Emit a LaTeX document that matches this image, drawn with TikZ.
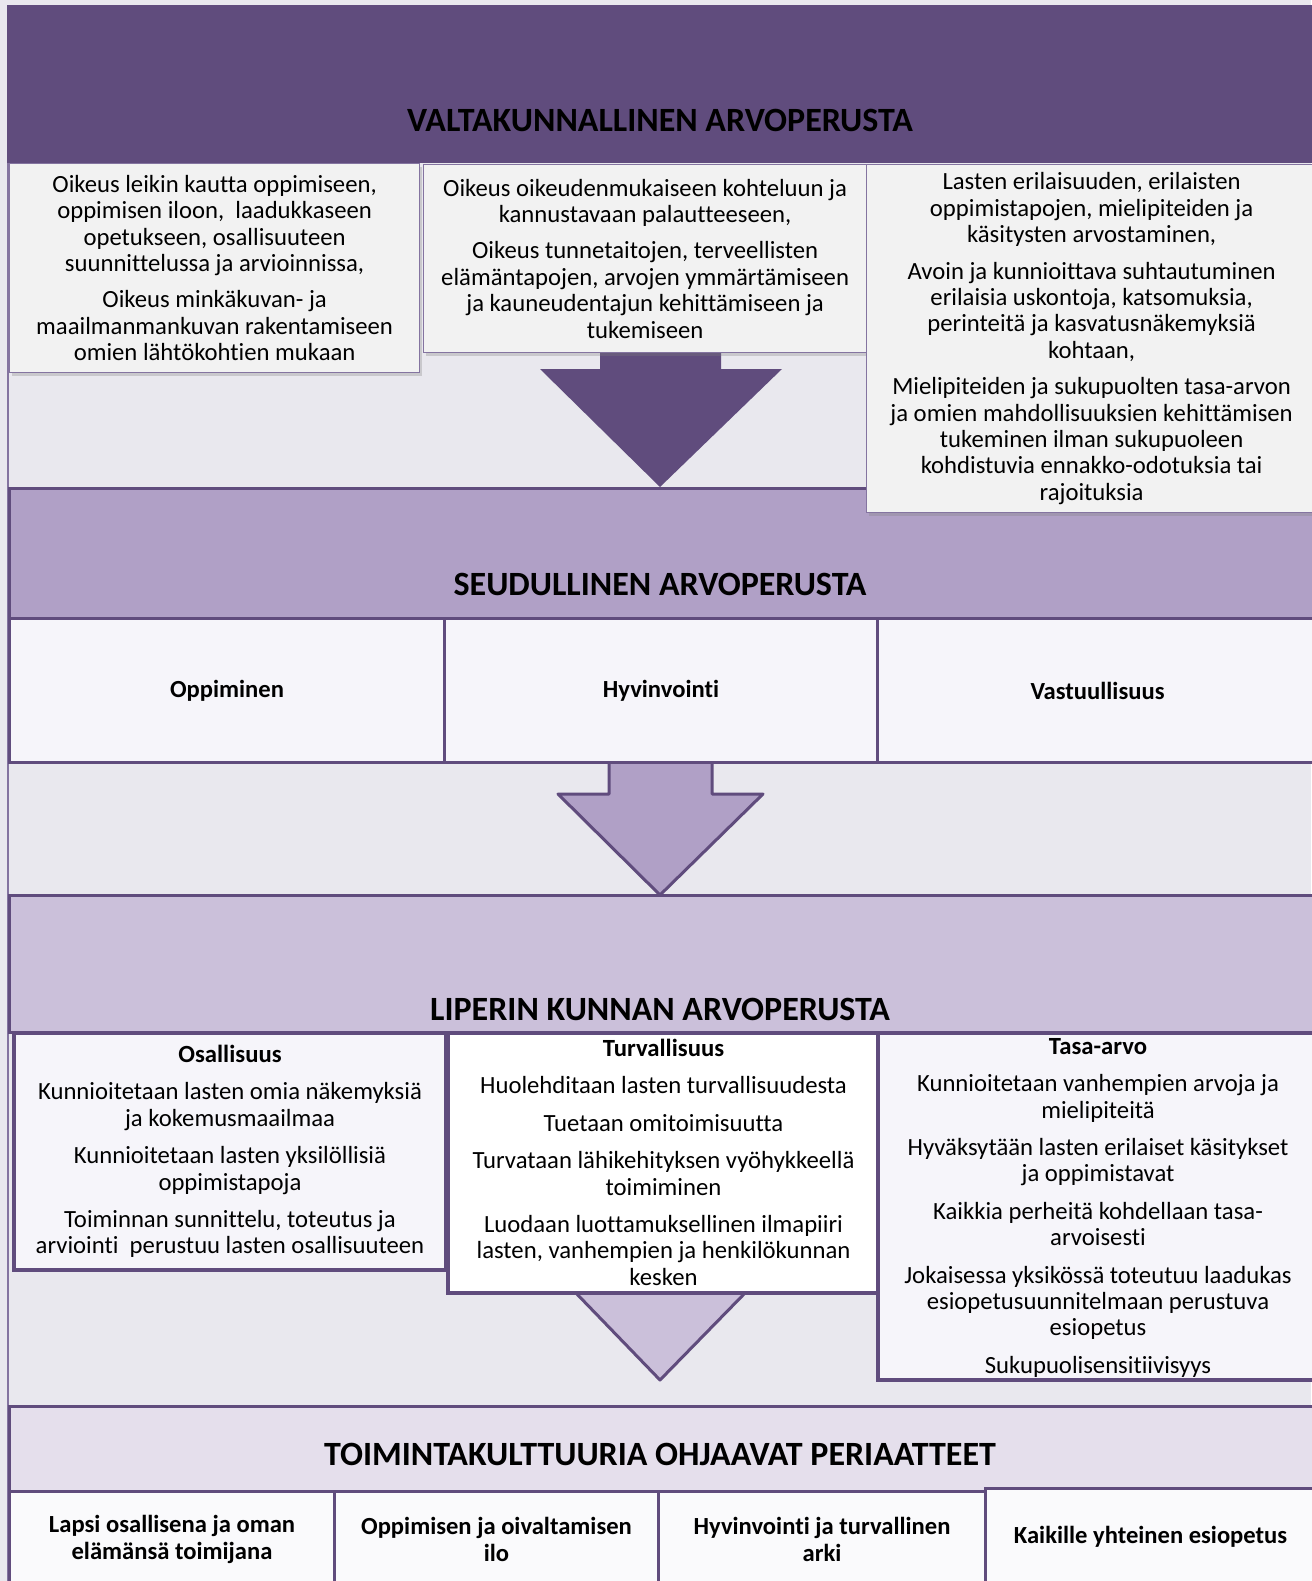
\documentclass[tikz,border=0pt]{standalone}
\usepackage{fontspec}
\setmainfont{Carlito}[Ligatures=NoCommon]
\usetikzlibrary{positioning,shadows}
\definecolor{bgcol}{HTML}{E9E8EE}
\definecolor{purpledark}{HTML}{604C7D}
\definecolor{lavmid}{HTML}{B0A0C6}
\definecolor{lavlight}{HTML}{CBC0DA}
\definecolor{lavpale}{HTML}{E5DFEC}
\definecolor{boxgray}{HTML}{F2F2F2}
\definecolor{cellcol}{HTML}{F6F5FA}
\definecolor{boxline}{HTML}{8474A0}

\begin{document}
\begin{tikzpicture}[x=1pt,y=-1pt,
  txt/.style={align=center,font=\fontsize{24.7}{26.4}\selectfont,inner sep=0pt},
  ttl/.style={font=\fontsize{34}{38}\selectfont\bfseries,inner sep=0pt},
  valbox/.style={draw=boxline,line width=1.2pt,fill=boxgray,anchor=north west,
    inner sep=0pt,align=center,font=\fontsize{24.7}{26.4}\selectfont,
    drop shadow={shadow xshift=2pt,shadow yshift=-3pt,opacity=.3}},
  band/.style={draw=purpledark,line width=2.5pt,anchor=north west,inner sep=0pt,minimum width=1320},
  cell/.style={draw=purpledark,line width=3pt,anchor=north west,inner sep=0pt,align=center,
    font=\fontsize{24.6}{26.4}\selectfont\bfseries},
  valuecell/.style={draw=purpledark,line width=4pt,anchor=north west,inner sep=0pt},
  blockarrow/.style={draw=purpledark,line width=3pt,line join=round}]

\fill[bgcol] (0,0) rectangle (1311,1581);
\useasboundingbox (0,0) rectangle (1311,1581);
\draw[boxline,line width=1.5pt] (8,163) -- (8,1581);

\node[fill=purpledark,anchor=north west,minimum width=1320,minimum height=158,inner sep=0pt] (valt) at (7,5) {};
\node[ttl] (valt-title) at (660,120) {VALTAKUNNALLINEN ARVOPERUSTA};

\node[band,fill=lavmid,minimum height=130] (seud) at (8,487) {};
\node[ttl] (seud-title) at (660,584) {SEUDULLINEN ARVOPERUSTA};

\fill[purpledark] (600,340) -- (600,369) -- (540,369) -- (660,487) -- (782,369) -- (721,369) -- (721,340) -- cycle;

\node[valbox,minimum width=410,minimum height=209] (oik1) at (9,163) {Oikeus leikin kautta oppimiseen,\\
  oppimisen iloon,\ \ laadukkaseen\\ opetukseen, osallisuuteen\\ suunnittelussa ja arvioinnissa,\\[10pt]
  Oikeus minkäkuvan- ja\\ maailmanmankuvan rakentamiseen\\ omien lähtökohtien mukaan};
\node[valbox,minimum width=443,minimum height=188] (oik2) at (423,164) {Oikeus oikeudenmukaiseen kohteluun ja\\
  kannustavaan palautteeseen,\\[10pt] Oikeus tunnetaitojen, terveellisten\\ elämäntapojen, arvojen ymmärtämiseen\\
  ja kauneudentajun kehittämiseen ja\\ tukemiseen};
\node[valbox,minimum width=450,minimum height=348] (oik3) at (866,164) {Lasten erilaisuuden, erilaisten\\
  oppimistapojen, mielipiteiden ja\\ käsitysten arvostaminen,\\[10pt] Avoin ja kunnioittava suhtautuminen\\
  erilaisia uskontoja, katsomuksia,\\ perinteitä ja kasvatusnäkemyksiä\\ kohtaan,\\[10pt]
  Mielipiteiden ja sukupuolten tasa-arvon\\ ja omien mahdollisuuksien kehittämisen\\
  tukeminen ilman sukupuoleen\\ kohdistuvia ennakko-odotuksia tai\\ rajoituksia};

\draw[blockarrow,fill=lavmid] (609,750) -- (609,794) -- (558,794) -- (660,895) -- (763,794) -- (712,794) -- (712,750);

\node[cell,fill=cellcol,minimum width=435,minimum height=144] (opp) at (8,617) {Oppiminen};
\node[cell,fill=cellcol,minimum width=433,minimum height=144] (hyv) at (443,617) {Hyvinvointi};
\node[cell,fill=cellcol,minimum width=440,minimum height=144] (vas) at (876,617) {Vastuullisuus};

\node[band,fill=lavlight,minimum height=137] (lip) at (8,894) {};
\node[ttl] (lip-title) at (660,1009) {LIPERIN KUNNAN ARVOPERUSTA};

\draw[blockarrow,fill=lavlight] (620,1280) -- (620,1291) -- (574,1291) -- (660,1380) -- (747,1291) -- (700,1291) -- (700,1280);

\node[valuecell,fill=cellcol,minimum width=432,minimum height=237] (osa) at (12,1031) {};
\node[valuecell,fill=white,minimum width=431,minimum height=260] (tur) at (446,1031) {};
\node[valuecell,fill=cellcol,minimum width=440,minimum height=347] (tas) at (876,1031) {};

\node[txt,below=14pt of osa.north] (osa-txt) {\textbf{Osallisuus}\\[11pt]
  Kunnioitetaan lasten omia näkemyksiä\\ ja kokemusmaailmaa\\[11pt]
  Kunnioitetaan lasten yksilöllisiä\\ oppimistapoja\\[11pt]
  Toiminnan sunnittelu, toteutus ja\\ arviointi\ \ perustuu lasten osallisuuteen};
\node[txt,below=8pt of tur.north] (tur-txt) {\textbf{Turvallisuus}\\[11pt]
  Huolehditaan lasten turvallisuudesta\\[11pt] Tuetaan omitoimisuutta\\[11pt]
  Turvataan lähikehityksen vyöhykkeellä\\ toimiminen\\[11pt]
  Luodaan luottamuksellinen ilmapiiri\\ lasten, vanhempien ja henkilökunnan\\ kesken};
\node[txt,below=7pt of tas.north] (tas-txt) {\textbf{Tasa-arvo}\\[11pt]
  Kunnioitetaan vanhempien arvoja ja\\ mielipiteitä\\[11pt]
  Hyväksytään lasten erilaiset käsitykset\\ ja oppimistavat\\[11pt]
  Kaikkia perheitä kohdellaan tasa-\\ arvoisesti\\[11pt]
  Jokaisessa yksikössä toteutuu laadukas\\ esiopetusuunnitelmaan perustuva\\ esiopetus\\[11pt]
  Sukupuolisensitiivisyys};

\node[band,fill=lavpale,minimum height=85] (toim) at (8,1405) {};
\node[ttl] (toim-title) at (660,1454) {TOIMINTAKULTTUURIA OHJAAVAT PERIAATTEET};

\node[cell,fill=cellcol!50!white,minimum width=325,minimum height=96] (lapsi) at (8,1490) {Lapsi osallisena ja oman\\ elämänsä toimijana};
\node[cell,fill=cellcol!50!white,minimum width=324,minimum height=96] (ilo) at (333,1490) {Oppimisen ja oivaltamisen\\ ilo};
\node[cell,fill=cellcol!50!white,minimum width=327,minimum height=96] (arki) at (657,1490) {Hyvinvointi ja turvallinen\\ arki};
\node[cell,fill=cellcol!50!white,minimum width=330,minimum height=96] (kaikki) at (984,1487) {Kaikille yhteinen esiopetus};
\end{tikzpicture}
\end{document}
